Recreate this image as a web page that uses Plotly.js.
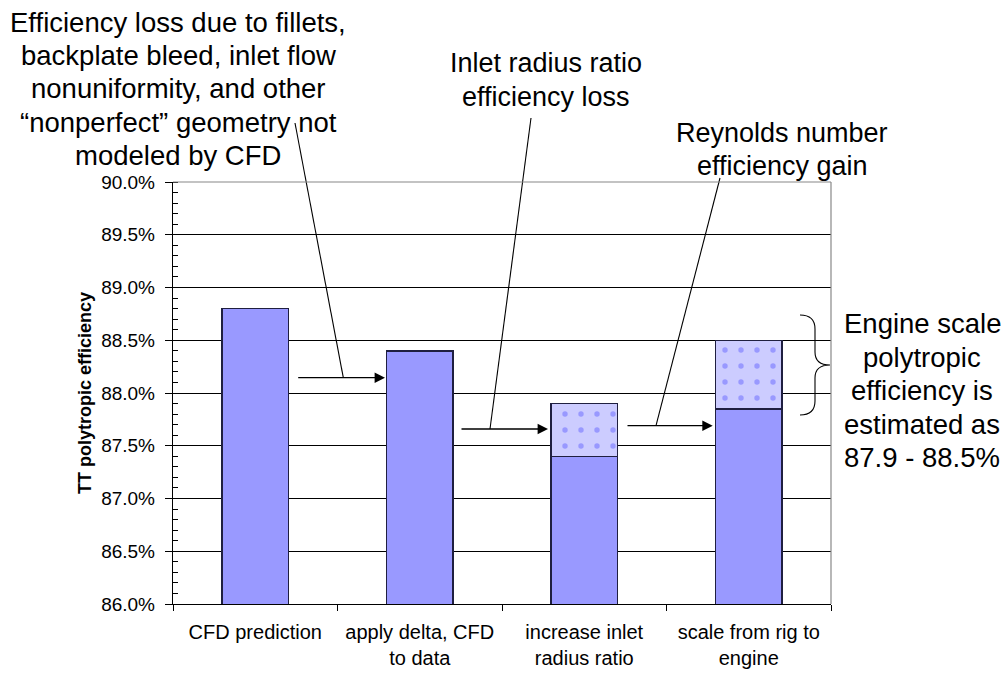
<!DOCTYPE html>
<html><head><meta charset="utf-8">
<script src="https://cdn.plot.ly/plotly-3.0.1.min.js"></script>
<style>html,body{margin:0;padding:0;background:#fff}</style>
</head><body><div id="chart" style="width:1006px;height:673px"></div>
<script>
// ---- data ----
const categories = ['CFD prediction', 'apply delta, CFD<br>to data', 'increase inlet<br>radius ratio', 'scale from rig to<br>engine'];
const baseEfficiency = [88.8, 88.4, 87.4, 87.85];
const adjustedEfficiency = [null, null, 87.9, 88.5];
const adjustment = adjustedEfficiency.map((v, i) => v == null ? null : +(v - baseEfficiency[i]).toFixed(3));
const yRange = [86, 90];

const noteFillets = ['Efficiency loss due to fillets,', 'backplate bleed, inlet flow', 'nonuniformity, and other', '\u201Cnonperfect\u201D geometry not', 'modeled by CFD'];
const noteRadius = ['Inlet radius ratio', 'efficiency loss'];
const noteReynolds = ['Reynolds number', 'efficiency gain'];
const noteEngine = ['Engine scale', 'polytropic', 'efficiency is', 'estimated as', '87.9 - 88.5%'];

// ---- layout geometry (pixels) ----
const W = 1006, H = 673, L = 173, R = 831, T = 182, B = 604;
const px = x => (x - L) / (R - L);
const py = y => (B - y) / (B - T);
const FONT = 'Liberation Sans, Arial, sans-serif';

const annotations = [];
function textLines(lines, cx, ys, size) {
  lines.forEach((t, i) => annotations.push({
    xref: 'paper', yref: 'paper', x: px(cx), y: py(ys[i]), text: t, showarrow: false,
    xanchor: 'center', yanchor: 'middle', font: {family: FONT, size: size, color: '#000'}
  }));
}
textLines(noteFillets, 178, [22, 55, 89, 122, 156], 27.5);
textLines(noteRadius, 546, [63, 97], 27);
textLines(noteReynolds, 782, [133, 166], 27);
textLines(noteEngine, 922, [323, 357, 390, 424, 457], 27.5);

function arrow(x0, x1, y) {
  annotations.push({
    xref: 'paper', yref: 'paper', x: px(x1), y: py(y), ax: x0 - x1, ay: 0, axref: 'pixel', ayref: 'pixel',
    text: '', showarrow: true, arrowhead: 2, arrowsize: 1.6, arrowwidth: 1.3, arrowcolor: '#000', standoff: 0
  });
}
arrow(296.7, 385, 377.7);
arrow(460, 548, 429);
arrow(626, 712.7, 425.7);

const shapes = [];
function seg(x0, y0, x1, y1, color, width) {
  shapes.push({type: 'line', xref: 'paper', yref: 'paper', x0: px(x0), y0: py(y0), x1: px(x1), y1: py(y1),
    line: {color: color, width: width}});
}
seg(295, 123, 343.3, 377.7, '#000', 1.1);
seg(531, 118, 490, 429, '#000', 1.1);
seg(720, 178, 656, 425.7, '#000', 1.1);
// plot area border (top and right)
seg(L, T, R, T, '#888', 1.2);
seg(R, T, R, B, '#888', 1.2);

// curly brace
const P = (x, y) => px(x).toFixed(5) + ',' + py(y).toFixed(5);
const bracePath = 'M' + P(800, 315) + ' Q' + P(815, 315) + ' ' + P(815, 329) +
  ' L' + P(815, 352) + ' Q' + P(815, 365) + ' ' + P(830, 365) +
  ' Q' + P(815, 365) + ' ' + P(815, 378) + ' L' + P(815, 401) +
  ' Q' + P(815, 415) + ' ' + P(800, 415);
shapes.push({type: 'path', xref: 'paper', yref: 'paper', path: bracePath, line: {color: '#000', width: 1.1}});

const traces = [
  {type: 'bar', x: categories, y: baseEfficiency, marker: {color: '#9999FF', line: {color: '#1f1f40', width: 1.5}},
   hoverinfo: 'skip'},
  {type: 'bar', x: categories, y: adjustment,
   marker: {color: '#CCCCFF', line: {color: '#1f1f40', width: 1.5},
     pattern: {shape: '.', fillmode: 'replace', bgcolor: '#CCCCFF', fgcolor: '#9999FF', size: 16, solidity: 0.09}},
   hoverinfo: 'skip'}
];

const layout = {
  width: W, height: H, margin: {l: L, r: W - R, t: T, b: H - B},
  paper_bgcolor: '#fff', plot_bgcolor: '#fff', showlegend: false,
  barmode: 'stack', bargap: 0.595,
  font: {family: FONT, color: '#000'},
  xaxis: {type: 'category', tickson: 'boundaries', ticks: 'outside', ticklen: 6, tickcolor: '#000',
    showline: true, linecolor: '#000', linewidth: 1.2, showgrid: false, ticklabelstandoff: 10,
    tickfont: {family: FONT, size: 20, color: '#000'}},
  yaxis: {range: yRange, dtick: 0.5, tickformat: '.1f', ticksuffix: '%', ticks: 'outside', ticklen: 7, tickcolor: '#000',
    showline: true, linecolor: '#000', linewidth: 1.2, showgrid: true, gridcolor: '#000', gridwidth: 1, zeroline: false,
    minor: {dtick: 0.1, ticks: 'inside', ticklen: 5, tickcolor: '#000', showgrid: false},
    ticklabelstandoff: 6,
    tickfont: {family: FONT, size: 19, color: '#000'},
    title: {text: 'TT polytropic efficiency', font: {family: FONT, size: 18, weight: 'bold', color: '#000'}, standoff: 4}},
  annotations: annotations, shapes: shapes
};

Plotly.newPlot('chart', traces, layout, {displayModeBar: false, staticPlot: true});
</script>
</body></html>
